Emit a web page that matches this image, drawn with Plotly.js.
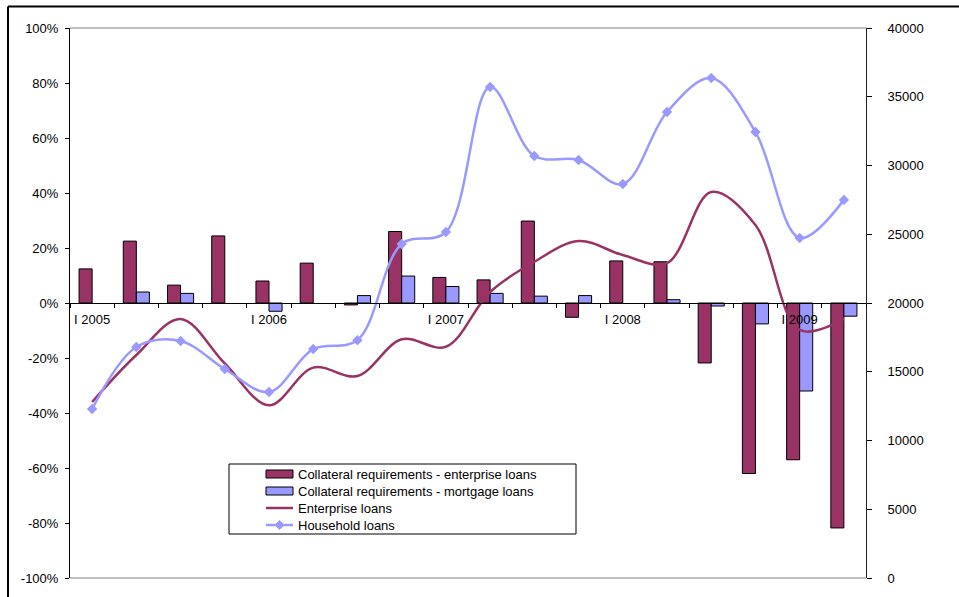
<!DOCTYPE html>
<html>
<head>
<meta charset="utf-8">
<script src="https://cdn.plot.ly/plotly-3.0.1.min.js"></script>
<style>html,body{margin:0;padding:0;background:#fff;}#chart{width:959px;height:597px;}</style>
</head>
<body>
<div id="chart"></div>
<script>
var quarters = ["I 2005","II 2005","III 2005","IV 2005","I 2006","II 2006","III 2006","IV 2006","I 2007","II 2007","III 2007","IV 2007","I 2008","II 2008","III 2008","IV 2008","I 2009","II 2009"];
var quarterLabels = ["I 2005","","","","I 2006","","","","I 2007","","","","I 2008","","","","I 2009",""];
var collateralEnterprise = [12.4, 22.5, 6.5, 24.4, 8, 14.5, -0.7, 26, 9.3, 8.4, 29.8, -5.2, 15.3, 15, -21.8, -62, -57, -81.8];
var collateralMortgage = [null, 4, 3.5, null, -3, null, 2.7, 9.8, 6, 3.5, 2.5, 2.7, null, 1.2, -1.1, -7.6, -32, -4.8];
var enterpriseLoans = [12800, 16220, 18840, 15600, 12560, 15300, 14690, 17360, 16820, 20800, 23000, 24510, 23490, 22900, 28070, 25670, 18040, 18840];
var householdLoans = [12290, 16800, 17240, 15200, 13530, 16650, 17300, 24290, 25160, 35710, 30690, 30400, 28650, 33890, 36360, 32440, 24730, 27500];
var leftTicks = [-100, -80, -60, -40, -20, 0, 20, 40, 60, 80, 100];
var leftTickText = ["-100%","-80%","-60%","-40%","-20%","0%","20%","40%","60%","80%","100%"];
var seriesNames = ["Collateral requirements - enterprise loans","Collateral requirements - mortgage loans","Enterprise loans","Household loans"];

var plum = "#993366", lav = "#9999FF";
var traces = [
  {type:"bar", name:seriesNames[0], x:quarters, y:collateralEnterprise,
   marker:{color:plum, line:{color:"#000", width:1}}, yaxis:"y", xaxis:"x"},
  {type:"bar", name:seriesNames[1], x:quarters, y:collateralMortgage,
   marker:{color:lav, line:{color:"#000", width:1}}, yaxis:"y", xaxis:"x"},
  {type:"scatter", mode:"lines", name:seriesNames[2], x:quarters, y:enterpriseLoans,
   line:{color:plum, width:2.5, shape:"spline", smoothing:1}, yaxis:"y2", xaxis:"x"},
  {type:"scatter", mode:"lines+markers", name:seriesNames[3], x:quarters, y:householdLoans,
   line:{color:lav, width:2.5, shape:"spline", smoothing:1},
   marker:{symbol:"diamond", size:8, color:lav}, yaxis:"y2", xaxis:"x"}
];

var font = {family:"'Liberation Sans', Arial, sans-serif", size:13, color:"#000"};

function px(x){ return (x-70)/796; }
function py(y){ return (578-y)/550; }
var rowY = [474, 491, 508, 525];
var symX0 = 266, symX1 = 293, textX = 296;
var shapes = [
  {type:"line", xref:"paper", yref:"paper", x0:0, x1:1, y0:1, y1:1, line:{color:"#808080", width:1}},
  {type:"line", xref:"paper", yref:"paper", x0:0, x1:1, y0:0, y1:0, line:{color:"#808080", width:1}},
  {type:"line", xref:"paper", yref:"paper", x0:px(8), x1:1.2, y0:py(6.5), y1:py(6.5), line:{color:"#000", width:2}},
  {type:"line", xref:"paper", yref:"paper", x0:px(8), x1:px(8), y0:py(6.5), y1:-0.1, line:{color:"#000", width:2}},
  {type:"rect", xref:"paper", yref:"paper", x0:px(229), x1:px(576), y0:py(534), y1:py(464), line:{color:"#000", width:1}, fillcolor:"#fff", layer:"above"},
  {type:"rect", xref:"paper", yref:"paper", x0:px(symX0), x1:px(symX1), y0:py(rowY[0]+4), y1:py(rowY[0]-4), line:{color:"#000", width:1}, fillcolor:plum, layer:"above"},
  {type:"rect", xref:"paper", yref:"paper", x0:px(symX0), x1:px(symX1), y0:py(rowY[1]+4), y1:py(rowY[1]-4), line:{color:"#000", width:1}, fillcolor:lav, layer:"above"},
  {type:"line", xref:"paper", yref:"paper", x0:px(symX0), x1:px(symX1), y0:py(rowY[2]), y1:py(rowY[2]), line:{color:plum, width:2.5}, layer:"above"},
  {type:"line", xref:"paper", yref:"paper", x0:px(symX0), x1:px(symX1), y0:py(rowY[3]), y1:py(rowY[3]), line:{color:lav, width:2.5}, layer:"above"}
];
var cx = px((symX0+symX1)/2), cy = py(rowY[3]), ddx = 4.5/796, ddy = 4.5/550;
shapes.push({type:"path", xref:"paper", yref:"paper", layer:"above",
  path:"M "+cx+","+(cy+ddy)+" L "+(cx+ddx)+","+cy+" L "+cx+","+(cy-ddy)+" L "+(cx-ddx)+","+cy+" Z",
  fillcolor:lav, line:{color:lav, width:1}});
var annotations = seriesNames.map(function(n,i){
  return {xref:"paper", yref:"paper", x:px(textX), y:py(rowY[i]), xanchor:"left", yanchor:"middle",
    text:n, showarrow:false, font:font};
});

// boundary positions for the inner half of the crossing tick marks
var boundaries = [];
for (var b = 0; b <= quarters.length; b++) boundaries.push(b - 0.5);
var rightTicks = [0,5000,10000,15000,20000,25000,30000,35000,40000];

var layout = {
  width:959, height:597,
  margin:{l:70, r:93, t:28, b:19, pad:0},
  paper_bgcolor:"#fff", plot_bgcolor:"#fff",
  font:font,
  showlegend:false,
  barmode:"group", bargap:0.41, bargroupgap:0,
  xaxis:{type:"category", anchor:"free", position:0.5, range:[-0.5,17.5],
    tickmode:"array", tickvals:quarters, ticktext:quarterLabels, tickson:"boundaries",
    ticks:"outside", ticklen:4, tickcolor:"#000", tickwidth:1,
    showline:true, linecolor:"#000", linewidth:1, showgrid:false, zeroline:false,
    tickangle:0, ticklabelstandoff:4, tickfont:font},
  xaxis2:{type:"linear", overlaying:"x", anchor:"free", position:0.5, range:[-0.5,17.5],
    tickmode:"array", tickvals:boundaries, ticks:"inside", ticklen:4, tickcolor:"#000",
    showticklabels:false, showline:false, showgrid:false, zeroline:false},
  yaxis:{range:[-100,100], tickmode:"array", tickvals:leftTicks, ticktext:leftTickText,
    ticks:"outside", ticklen:4, tickcolor:"#000", showline:true, linecolor:"#000", linewidth:1,
    showgrid:false, zeroline:false, ticklabelstandoff:4, tickfont:font},
  yaxis3:{range:[-100,100], overlaying:"y", side:"left", anchor:"x", tickmode:"array", tickvals:leftTicks,
    ticks:"inside", ticklen:3, tickcolor:"#000", showticklabels:false, showline:false, showgrid:false, zeroline:false},
  yaxis2:{range:[0,40000], dtick:5000, tick0:0, tickformat:"d", overlaying:"y", side:"right", anchor:"x",
    ticks:"outside", ticklen:5, tickcolor:"#000", showline:true, linecolor:"#222", linewidth:1,
    showgrid:false, zeroline:false, ticklabelstandoff:13, tickfont:font},
  yaxis4:{range:[0,40000], overlaying:"y", side:"right", anchor:"x", tickmode:"array", tickvals:rightTicks,
    ticks:"inside", ticklen:4, tickcolor:"#000", showticklabels:false, showline:false, showgrid:false, zeroline:false},
  shapes:shapes,
  annotations:annotations
};
Plotly.newPlot("chart", traces, layout, {displayModeBar:false, staticPlot:true});
</script>
</body>
</html>
